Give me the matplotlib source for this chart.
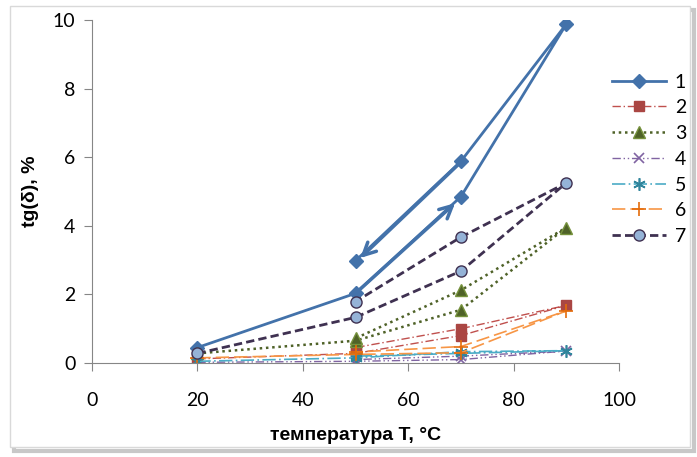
import matplotlib
matplotlib.use('Agg')
import matplotlib.pyplot as plt
from matplotlib.patches import Rectangle

# heating 20 -> 90, then cooling back 90 -> 50
temp = [20, 50, 70, 90, 70, 50]
s1 = [0.45, 2.03, 4.85, 9.88, 5.88, 2.98]
s2 = [0.12, 0.28, 0.80, 1.68, 1.00, 0.45]
s3 = [0.28, 0.65, 1.55, 3.95, 2.12, 0.72]
s4 = [0.02, 0.05, 0.10, 0.35, 0.20, 0.10]
s5 = [0.05, 0.15, 0.33, 0.36, 0.28, 0.20]
s6 = [0.15, 0.25, 0.30, 1.52, 0.48, 0.32]
s7 = [0.28, 1.33, 2.68, 5.25, 3.67, 1.79]
labels = ['1', '2', '3', '4', '5', '6', '7']


def main():
    fig = plt.figure(figsize=(6.97, 4.57), dpi=100)
    ax = fig.add_axes([92 / 697, 1 - 363 / 457, 527 / 697, 343 / 457])
    ax.set_zorder(2)
    ax.patch.set_visible(False)

    # chart frame with shadow
    fig.patches.append(Rectangle((14 / 697, 6 / 457), 680 / 697, 441 / 457,
                                 transform=fig.transFigure, fc='none',
                                 ec='#c8c8c8', lw=3, zorder=-2))
    fig.patches.append(Rectangle((10 / 697, 10 / 457), 680 / 697, 441 / 457,
                                 transform=fig.transFigure, fc='white',
                                 ec='#d9d9d9', lw=1, zorder=-1))

    ax.plot(temp, s1, color='#4372AA', lw=2, marker='D', ms=7, label=labels[0])
    ax.plot(temp, s2, color='#C0504D', lw=1, dashes=(6, 2, 1, 2), marker='s', ms=7,
            mfc='#AA4643', mec='#AA4643', label=labels[1])
    ax.plot(temp, s3, color='#4F6228', lw=1.8, linestyle=(0, (1, 1.5)), marker='^', ms=9,
            mfc='#4F6228', mec='#76923C', label=labels[2])
    ax.plot(temp, s4, color='#8064A2', lw=1, dashes=(6, 2, 1, 2, 1, 2), marker='x', ms=7,
            mew=1.2, label=labels[3])
    ax.plot(temp, s5, color='#4BACC6', lw=1.2, dashes=(8, 2, 1, 2), marker=(6, 2, 0), ms=9,
            mew=1.2, mec='#31859C', label=labels[4])
    ax.plot(temp, s6, color='#F79646', lw=1.2, dashes=(8, 3), marker='+', ms=10,
            mew=1.2, mec='#E46C0A', label=labels[5])
    ax.plot(temp, s7, color='#3F3151', lw=2, dashes=(3, 1.5), marker='o', ms=8,
            mfc='#95B3D7', mec='#3F3151', mew=1, label=labels[6])

    # direction arrows for curve 1
    ax.annotate('', xy=(68.9, 4.66), xytext=(50.5, 2.1),
                arrowprops=dict(arrowstyle='->,head_length=0.9,head_width=0.45',
                                color='#4372AA', lw=2.5, shrinkA=0, shrinkB=0))
    ax.annotate('', xy=(50.9, 3.06), xytext=(69.6, 5.8),
                arrowprops=dict(arrowstyle='->,head_length=0.9,head_width=0.45',
                                color='#4372AA', lw=2.5, shrinkA=0, shrinkB=0))

    ax.set_xlim(0, 100)
    ax.set_ylim(0, 10)
    ax.set_xticks([0, 20, 40, 60, 80, 100])
    ax.set_yticks([0, 2, 4, 6, 8, 10])
    for side in ['top', 'right']:
        ax.spines[side].set_visible(False)
    for side in ['left', 'bottom']:
        ax.spines[side].set_color('#868686')
    ax.tick_params(colors='#868686', labelcolor='black', labelsize=14, length=6,
                   direction='out')
    ax.tick_params(axis='x', pad=15)
    ax.tick_params(axis='y', pad=6)
    for lbl in ax.get_xticklabels() + ax.get_yticklabels():
        lbl.set_family('Lato')

    ax.set_xlabel('температура T, °C', fontsize=14, fontweight='bold',
                  family='Liberation Sans', labelpad=13)
    ax.set_ylabel('tg(δ), %', fontsize=14, fontweight='bold',
                  family='Liberation Sans', labelpad=10)

    ax.legend(loc='upper left', bbox_to_anchor=(0.953, 0.895), frameon=False,
              prop={'family': 'Lato', 'size': 14}, handlelength=2.8,
              labelspacing=0.45, handletextpad=0.45)

    fig.savefig('out.png', dpi=100)


if __name__ == '__main__':
    main()
